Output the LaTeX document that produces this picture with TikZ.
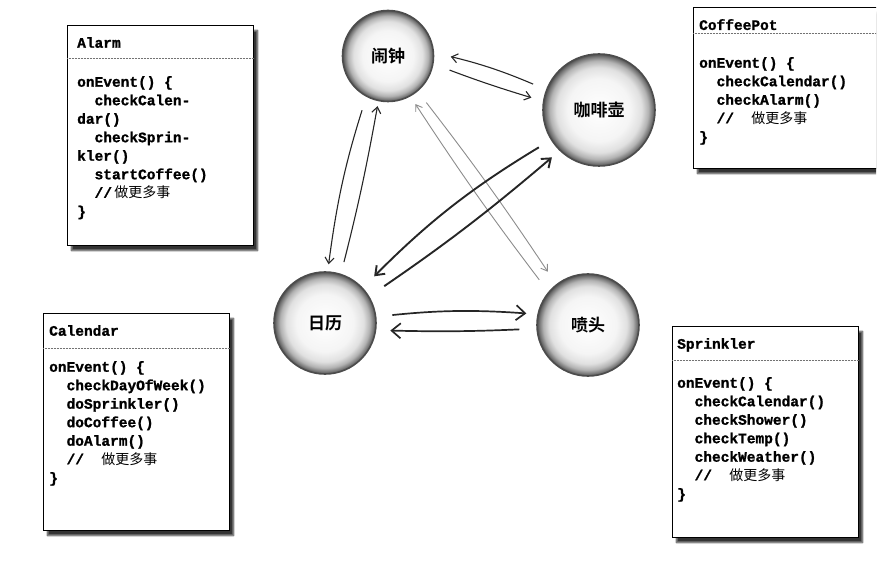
\documentclass[tikz,border=0pt]{standalone}
\usepackage{fontspec}
\setmonofont{Liberation Mono}[BoldFeatures={FakeBold=1.2}]
\newfontfamily\cjk{Noto Sans CJK SC}[BoldFont={Noto Sans CJK SC Bold}]
\newcommand\cmtf{\cjk\mdseries\fontsize{14}{18.5}\selectfont}
\usetikzlibrary{arrows.meta,shadows.blur}
\pgfdeclareradialshading{ballshade}{\pgfpoint{0bp}{0bp}}{%
  color(0bp)=(white); color(14bp)=(black!4); color(19bp)=(black!12);
  color(22bp)=(black!30); color(24bp)=(black!55); color(25bp)=(black!70); color(50bp)=(black!70)}
\begin{document}
\begin{tikzpicture}[x=1pt,y=-1pt,
  ball/.style={circle, draw=black!70, line width=1.6pt, shading=ballshade,
    minimum size=#1, inner sep=0pt, font=\cjk\bfseries\fontsize{17}{17}\selectfont},
  box/.style={draw=black, line width=1pt, fill=white, anchor=north west, inner sep=0pt,
    blur shadow={shadow xshift=4pt, shadow yshift=-5pt, shadow blur steps=6, shadow opacity=80}},
  sepline/.style={draw=black!55, line width=0.8pt, dash pattern=on 1pt off 0.5pt},
  code/.style={anchor=north west, inner sep=0pt, align=left,
    font=\ttfamily\bfseries\fontsize{14.5}{18.5}\selectfont},
  arr/.style={-{Straight Barb[length=6pt,width=9pt]}, line width=1.1pt, black!85},
  thick arr/.style={-{Straight Barb[length=8pt,width=12pt]}, line width=1.9pt, black!85},
  big arr/.style={-{Straight Barb[length=9pt,width=15pt]}, line width=1.7pt, black!85},
  gray arr/.style={-{Straight Barb[length=6pt,width=8pt]}, line width=0.9pt, black!45},
]
\useasboundingbox (0,0) rectangle (889,561);

% ---------- boxes ----------
% Alarm
\node[box, minimum width=186pt, minimum height=220pt] (alarmbox) at (67,25) {};
\draw[sepline] ([yshift=-33pt]alarmbox.north west) -- ([yshift=-33pt]alarmbox.north east);
\node[code] (alarmtitle) at (77,37) {Alarm};
\node[code] (alarmcode) at (77,76) {onEvent() \{\\
\ \ checkCalen-\\
dar()\\
\ \ checkSprin-\\
kler()\\
\ \ startCoffee()\\
\ \ //{\cmtf\,做更多事}\\
\}};

% CoffeePot (cropped at right)
\begin{scope}
\clip (680,0) rectangle (876,200);
\node[box, minimum width=200pt, minimum height=161pt] (coffeebox) at (693,7) {};
\draw[sepline] ([yshift=-26pt]coffeebox.north west) -- ([yshift=-26pt]coffeebox.north east);
\end{scope}
\node[code] (coffeetitle) at (699,19) {CoffeePot};
\node[code] (coffeecode) at (699,57) {onEvent() \{\\
\ \ checkCalendar()\\
\ \ checkAlarm()\\
\ \ //\ \ {\cmtf 做更多事}\\
\}};

% Calendar
\node[box, minimum width=186pt, minimum height=217pt] (calbox) at (43,313) {};
\draw[sepline] ([yshift=-35pt]calbox.north west) -- ([yshift=-35pt]calbox.north east);
\node[code] (caltitle) at (49,325) {Calendar};
\node[code] (calcode) at (49,361) {onEvent() \{\\
\ \ checkDayOfWeek()\\
\ \ doSprinkler()\\
\ \ doCoffee()\\
\ \ doAlarm()\\
\ \ //\ \ {\cmtf 做更多事}\\
\}};

% Sprinkler
\node[box, minimum width=186pt, minimum height=211pt] (sprbox) at (672,326) {};
\draw[sepline] ([yshift=-34pt]sprbox.north west) -- ([yshift=-34pt]sprbox.north east);
\node[code] (sprtitle) at (677,338) {Sprinkler};
\node[code] (sprcode) at (677,377) {onEvent() \{\\
\ \ checkCalendar()\\
\ \ checkShower()\\
\ \ checkTemp()\\
\ \ checkWeather()\\
\ \ //\ \ {\cmtf 做更多事}\\
\}};

% ---------- circles ----------
\node[ball=91pt] (alarm) at (388,56) {闹钟};
\node[ball=112pt] (coffee) at (599,110) {咖啡壶};
\node[ball=102pt] (cal) at (325,323) {日历};
\node[ball=102pt] (spr) at (588,325) {喷头};

% ---------- connectors ----------
% alarm <-> coffee
\draw[arr, shorten <=14pt, shorten >=17pt] (coffee.159) to[bend right=5] (alarm.4);
\draw[arr, shorten <=17pt, shorten >=12pt] (alarm.-10) to[bend right=2] (coffee.171);
% alarm <-> calendar
\draw[arr, shorten <=14pt, shorten >=7pt] (alarm.242) to[bend right=5] (cal.87);
\draw[arr, shorten <=12pt, shorten >=5pt] (cal.72) to[bend right=2] (alarm.-102);
% alarm <-> sprinkler (gray)
\draw[gray arr, shorten <=15pt, shorten >=9pt] (spr.140) to[bend left=2] (alarm.-61);
\draw[gray arr, shorten <=14pt, shorten >=15pt] (alarm.-50) to[bend left=2] (spr.128);
% coffee <-> calendar
\draw[thick arr, shorten <=14pt, shorten >=16pt] (coffee.212) to[bend right=7] (cal.43);
\draw[thick arr, shorten <=18pt, shorten >=10pt] (cal.31) to[bend right=3] (coffee.-134);
% calendar <-> sprinkler
\draw[big arr, shorten <=16pt, shorten >=11pt] (cal.7) to[bend left=5] (spr.168);
\draw[big arr, shorten <=17pt, shorten >=14pt] (spr.184) to[bend left=2] (cal.-8);
\end{tikzpicture}
\end{document}
